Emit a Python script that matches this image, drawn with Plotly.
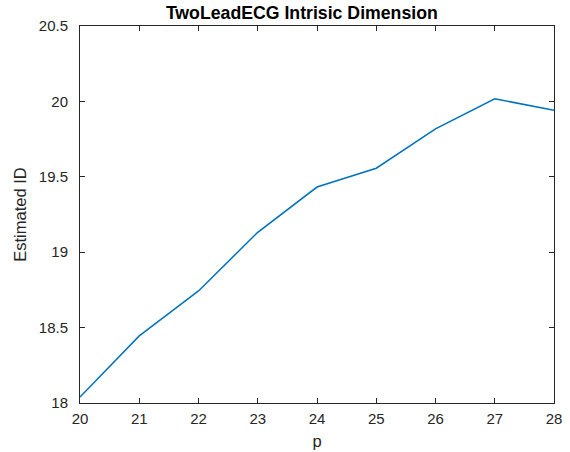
import plotly.graph_objects as go

p_values = [20, 21, 22, 23, 24, 25, 26, 27, 28]
estimated_id = [18.04, 18.445, 18.743, 19.132, 19.432, 19.557, 19.818, 20.017, 19.942]
x_ticks = [20, 21, 22, 23, 24, 25, 26, 27, 28]
y_ticks = [18, 18.5, 19, 19.5, 20, 20.5]
y_tick_labels = ["18", "18.5", "19", "19.5", "20", "20.5"]

fig = go.Figure()
fig.add_trace(go.Scatter(x=p_values, y=estimated_id, mode="lines",
                         line=dict(color="#0072BD", width=1.5), showlegend=False))

axis_common = dict(showgrid=False, zeroline=False, showline=True, linecolor="#262626",
                   linewidth=1, mirror="ticks", ticks="inside", ticklen=5, automargin=False,
                   tickcolor="#262626", tickfont=dict(size=15, color="#262626"))

fig.update_layout(
    width=570, height=452,
    margin=dict(l=80, r=16, t=26, b=49),
    paper_bgcolor="white", plot_bgcolor="white",
    font=dict(family="Liberation Sans, Arial, sans-serif", color="#262626"),
    title=dict(text="<b>TwoLeadECG Intrisic Dimension</b>", x=0.468, xanchor="center",
               xref="paper", y=1 - 12.5 / 452, yref="container", yanchor="middle",
               font=dict(size=17.7, color="black")),
    xaxis=dict(range=[20, 28], tickvals=x_ticks, ticklabelstandoff=2,
               title=dict(text="p", font=dict(size=16.5), standoff=9),
               **axis_common),
    yaxis=dict(range=[18, 20.5], tickvals=y_ticks, ticktext=y_tick_labels, ticklabelstandoff=8,
               title=dict(text="Estimated ID", font=dict(size=16.5), standoff=8), **axis_common),
)

fig.write_html("out.html")
